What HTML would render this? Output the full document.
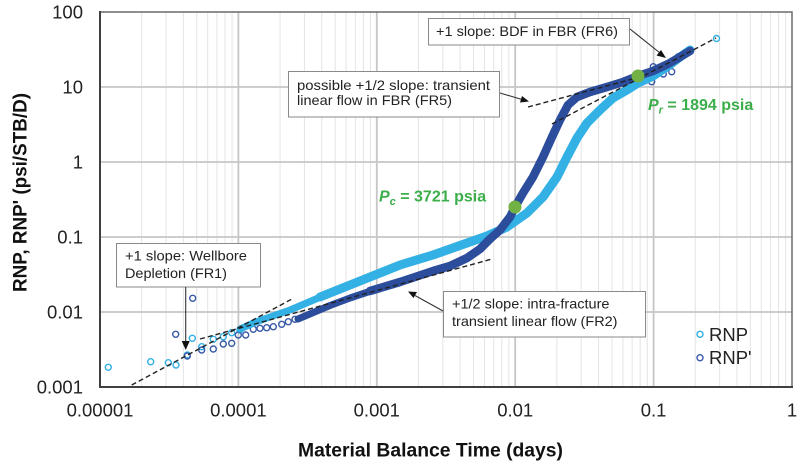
<!DOCTYPE html>
<html><head><meta charset="utf-8"><style>
html,body{margin:0;padding:0;background:#fff;}
svg{display:block;}
text{font-family:"Liberation Sans",Arial,sans-serif;}
</style></head><body>
<svg width="800" height="466" viewBox="0 0 800 466" xmlns="http://www.w3.org/2000/svg">
<rect width="800" height="466" fill="#fff"/>
<!-- minor vertical gridlines -->
<g stroke="#e4e4e4" stroke-width="1">
<line x1="141.66" y1="12" x2="141.66" y2="387"/><line x1="166.03" y1="12" x2="166.03" y2="387"/><line x1="183.33" y1="12" x2="183.33" y2="387"/><line x1="196.74" y1="12" x2="196.74" y2="387"/><line x1="207.7" y1="12" x2="207.7" y2="387"/><line x1="216.96" y1="12" x2="216.96" y2="387"/><line x1="224.99" y1="12" x2="224.99" y2="387"/><line x1="232.07" y1="12" x2="232.07" y2="387"/>
<line x1="280.06" y1="12" x2="280.06" y2="387"/><line x1="304.43" y1="12" x2="304.43" y2="387"/><line x1="321.73" y1="12" x2="321.73" y2="387"/><line x1="335.14" y1="12" x2="335.14" y2="387"/><line x1="346.1" y1="12" x2="346.1" y2="387"/><line x1="355.36" y1="12" x2="355.36" y2="387"/><line x1="363.39" y1="12" x2="363.39" y2="387"/><line x1="370.47" y1="12" x2="370.47" y2="387"/>
<line x1="418.46" y1="12" x2="418.46" y2="387"/><line x1="442.83" y1="12" x2="442.83" y2="387"/><line x1="460.13" y1="12" x2="460.13" y2="387"/><line x1="473.54" y1="12" x2="473.54" y2="387"/><line x1="484.5" y1="12" x2="484.5" y2="387"/><line x1="493.76" y1="12" x2="493.76" y2="387"/><line x1="501.79" y1="12" x2="501.79" y2="387"/><line x1="508.87" y1="12" x2="508.87" y2="387"/>
<line x1="556.86" y1="12" x2="556.86" y2="387"/><line x1="581.23" y1="12" x2="581.23" y2="387"/><line x1="598.53" y1="12" x2="598.53" y2="387"/><line x1="611.94" y1="12" x2="611.94" y2="387"/><line x1="622.9" y1="12" x2="622.9" y2="387"/><line x1="632.16" y1="12" x2="632.16" y2="387"/><line x1="640.19" y1="12" x2="640.19" y2="387"/><line x1="647.27" y1="12" x2="647.27" y2="387"/>
<line x1="695.26" y1="12" x2="695.26" y2="387"/><line x1="719.63" y1="12" x2="719.63" y2="387"/><line x1="736.93" y1="12" x2="736.93" y2="387"/><line x1="750.34" y1="12" x2="750.34" y2="387"/><line x1="761.3" y1="12" x2="761.3" y2="387"/><line x1="770.56" y1="12" x2="770.56" y2="387"/><line x1="778.59" y1="12" x2="778.59" y2="387"/><line x1="785.67" y1="12" x2="785.67" y2="387"/>
</g>
<!-- major gridlines -->
<g stroke="#c6c6c6" stroke-width="1.8">
<line x1="238.4" y1="12" x2="238.4" y2="387"/><line x1="376.8" y1="12" x2="376.8" y2="387"/><line x1="515.2" y1="12" x2="515.2" y2="387"/><line x1="653.6" y1="12" x2="653.6" y2="387"/>
<line x1="100" y1="87" x2="792" y2="87"/><line x1="100" y1="162" x2="792" y2="162"/><line x1="100" y1="237" x2="792" y2="237"/><line x1="100" y1="312" x2="792" y2="312"/>
</g>
<!-- plot border -->
<rect x="100" y="12" width="692" height="375" fill="none" stroke="#6a6a6a" stroke-width="1.5"/>
<line x1="100" y1="11" x2="100" y2="388" stroke="#404040" stroke-width="2"/>
<line x1="99" y1="387" x2="793" y2="387" stroke="#404040" stroke-width="2"/>

<!-- RNP light scatter -->
<g fill="none" stroke="#33b0e4" stroke-width="1.4">
<circle cx="108.3" cy="367.3" r="3"/><circle cx="150.7" cy="361.7" r="3"/><circle cx="168.3" cy="362.7" r="3"/><circle cx="176" cy="365" r="3"/><circle cx="187.3" cy="355" r="3"/><circle cx="192.3" cy="338.3" r="3"/><circle cx="201.7" cy="346.7" r="3"/><circle cx="213.3" cy="339.3" r="3"/><circle cx="223.3" cy="336.7" r="3"/><circle cx="231.7" cy="332.7" r="3"/><circle cx="240" cy="330" r="3"/><circle cx="716.5" cy="38.5" r="3"/>
</g>
<!-- RNP' dark scatter -->
<g fill="none" stroke="#3a5aa8" stroke-width="1.4">
<circle cx="192.7" cy="298.3" r="3"/><circle cx="175.7" cy="334.3" r="3"/><circle cx="187.3" cy="356" r="3"/><circle cx="201.7" cy="350" r="3"/><circle cx="213.3" cy="349" r="3"/><circle cx="223.3" cy="344" r="3"/><circle cx="231.7" cy="343.3" r="3"/><circle cx="238.3" cy="335" r="3"/><circle cx="245.7" cy="335" r="3"/><circle cx="253.3" cy="329.3" r="3"/><circle cx="260" cy="328.3" r="3"/><circle cx="266.7" cy="327.7" r="3"/><circle cx="273.3" cy="326.7" r="3"/><circle cx="281.7" cy="324.3" r="3"/><circle cx="288.3" cy="321.7" r="3"/><circle cx="295" cy="319.3" r="3"/>
<circle cx="630" cy="86.7" r="3"/><circle cx="635" cy="85" r="3"/><circle cx="651.7" cy="81.7" r="3"/><circle cx="658.3" cy="73.3" r="3"/><circle cx="663.3" cy="74" r="3"/><circle cx="671.7" cy="71.7" r="3"/><circle cx="653.3" cy="66.7" r="3"/><circle cx="678.3" cy="56.7" r="3"/><circle cx="686.7" cy="53.3" r="3"/>
</g>
<!-- RNP band -->
<polyline fill="none" stroke="#33b0e4" stroke-width="7" stroke-linejoin="round" stroke-linecap="round" points="240,329 257,321.5 290,310 323,296 350,285"/>
<polyline fill="none" stroke="#33b0e4" stroke-width="9" stroke-linejoin="round" stroke-linecap="round" points="320,297 350,285 400,265 433,255 467,243 487,236 507,227 527,213 543,197 557,177 567,157 577,138 587,123 600,110 613,98 627,90 638,83 653,76 668,66 680,57 690,50"/>
<!-- RNP' band -->
<polyline fill="none" stroke="#2c4c9c" stroke-width="7" stroke-linejoin="round" stroke-linecap="round" points="298,319 330,305.5 350,298 380,288"/>
<polyline fill="none" stroke="#2c4c9c" stroke-width="8.5" stroke-linejoin="round" stroke-linecap="round" points="370,291 400,282 433,271 450,266 467,258 480,249 490,239 500,230 510,217 515,207 523,193 533,177 543,157 552,137 560,120 568,105 577,97 590,92 607,87 623,82 638,76 653,71 668,64 680,57 690,51"/>

<!-- dashed slope lines -->
<g stroke="#222" stroke-width="1.4" stroke-dasharray="5,3" fill="none">
<line x1="131.7" y1="385" x2="293.3" y2="298.3"/>
<line x1="200" y1="339" x2="492" y2="259"/>
<line x1="528" y1="107" x2="640" y2="77"/>
<line x1="552" y1="124" x2="716" y2="38"/>
</g>

<!-- green markers -->
<circle cx="515" cy="207" r="6.5" fill="#72b244"/>
<circle cx="638" cy="76" r="6.5" fill="#72b244"/>

<!-- annotation boxes -->
<g fill="#fff" stroke="#8a8a8a" stroke-width="1">
<rect x="428.5" y="18.5" width="201" height="26.5"/>
<rect x="288.5" y="71.5" width="211" height="45.5"/>
<rect x="116.5" y="243.5" width="144" height="43.5"/>
<rect x="443.5" y="291.5" width="202" height="45.5"/>
</g>
<g font-size="14" fill="#222">
<text x="436" y="36" textLength="182" lengthAdjust="spacingAndGlyphs">+1 slope: BDF in FBR (FR6)</text>
<text x="297" y="90" textLength="193" lengthAdjust="spacingAndGlyphs">possible +1/2 slope:  transient</text>
<text x="297" y="105" textLength="155" lengthAdjust="spacingAndGlyphs">linear flow in FBR (FR5)</text>
<text x="125" y="260.5" textLength="122" lengthAdjust="spacingAndGlyphs">+1 slope: Wellbore</text>
<text x="125" y="278" textLength="102" lengthAdjust="spacingAndGlyphs">Depletion (FR1)</text>
<text x="452" y="308.5" textLength="157.5" lengthAdjust="spacingAndGlyphs">+1/2 slope: intra-fracture</text>
<text x="452" y="326" textLength="165.5" lengthAdjust="spacingAndGlyphs">transient linear flow (FR2)</text>
</g>
<!-- arrows -->
<g stroke="#333" stroke-width="1.1" fill="none">
<line x1="630" y1="29" x2="660" y2="53"/>
<line x1="500" y1="93" x2="522" y2="99.5"/>
<line x1="185.7" y1="287" x2="185.7" y2="342"/>
<line x1="443" y1="311" x2="415" y2="295.5"/>
</g>
<g fill="#111">
<polygon points="666,58 656.5,55.5 661,50"/>
<polygon points="529,101.5 520,102.5 522,96"/>
<polygon points="185.7,350 181.7,341 189.7,341"/>
<polygon points="408,291.5 417,292 413.5,298"/>
</g>

<!-- green labels -->
<g fill="#3cae4a" font-weight="bold" font-size="16">
<text x="379" y="201.7"><tspan font-style="italic">P</tspan><tspan font-style="italic" font-size="11" dy="3.5">c</tspan><tspan dy="-3.5"> = 3721 psia</tspan></text>
<text x="648" y="110"><tspan font-style="italic">P</tspan><tspan font-style="italic" font-size="11" dy="3.5">r</tspan><tspan dy="-3.5"> = 1894 psia</tspan></text>
</g>

<!-- legend -->
<circle cx="700" cy="334.3" r="3" fill="none" stroke="#33b0e4" stroke-width="1.4"/>
<circle cx="700" cy="357.7" r="3" fill="none" stroke="#3a5aa8" stroke-width="1.4"/>
<g font-size="18.5" fill="#222">
<text x="709" y="340.8">RNP</text>
<text x="709" y="364.2">RNP'</text>
</g>

<!-- tick labels -->
<g font-size="18.5" fill="#222" text-anchor="end">
<text x="83" y="18.5">100</text>
<text x="83" y="93.5">10</text>
<text x="83" y="168.5">1</text>
<text x="83" y="243.5">0.1</text>
<text x="83" y="318.5">0.01</text>
<text x="83" y="393.5">0.001</text>
</g>
<g font-size="18.5" fill="#222" text-anchor="middle">
<text x="100" y="416.7">0.00001</text>
<text x="238.4" y="416.7">0.0001</text>
<text x="376.8" y="416.7">0.001</text>
<text x="515.2" y="416.7">0.01</text>
<text x="653.6" y="416.7">0.1</text>
<text x="792" y="416.7">1</text>
</g>
<!-- axis titles -->
<text x="298" y="456.5" font-size="19" font-weight="bold" fill="#111" textLength="265" lengthAdjust="spacingAndGlyphs">Material Balance Time (days)</text>
<text transform="translate(26.5,192.5) rotate(-90)" text-anchor="middle" font-size="19" font-weight="bold" fill="#111" textLength="199" lengthAdjust="spacingAndGlyphs">RNP, RNP' (psi/STB/D)</text>
</svg>
</body></html>
